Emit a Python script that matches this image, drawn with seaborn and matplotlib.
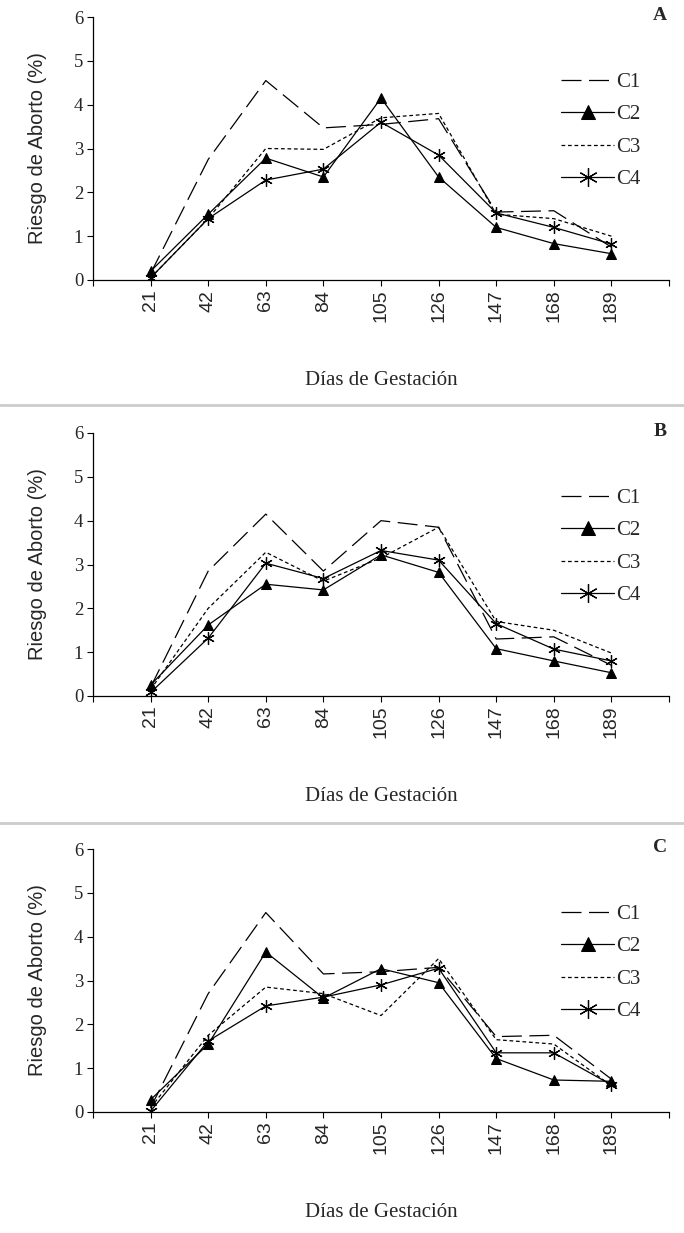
import pandas as pd
import matplotlib
matplotlib.use('Agg')
import matplotlib.pyplot as plt
from matplotlib.lines import Line2D
import seaborn as sns

dias = [21, 42, 63, 84, 105, 126, 147, 168, 189]
series = ['C1', 'C2', 'C3', 'C4']
paneles = ['A', 'B', 'C']

# panel A
a_c1 = [0.15, 2.75, 4.55, 3.47, 3.55, 3.68, 1.55, 1.58, 0.75]
a_c2 = [0.2, 1.5, 2.78, 2.35, 4.15, 2.35, 1.2, 0.83, 0.6]
a_c3 = [0.05, 1.4, 3.0, 2.98, 3.7, 3.8, 1.5, 1.4, 1.0]
a_c4 = [0.05, 1.4, 2.28, 2.53, 3.6, 2.85, 1.53, 1.2, 0.82]
# panel B
b_c1 = [0.2, 2.85, 4.15, 2.85, 4.0, 3.85, 1.3, 1.35, 0.7]
b_c2 = [0.25, 1.62, 2.55, 2.42, 3.22, 2.82, 1.08, 0.8, 0.53]
b_c3 = [0.15, 2.0, 3.28, 2.62, 3.15, 3.85, 1.7, 1.5, 0.98]
b_c4 = [0.08, 1.32, 3.03, 2.68, 3.32, 3.1, 1.65, 1.07, 0.8]
# panel C
c_c1 = [0.1, 2.7, 4.55, 3.15, 3.2, 3.3, 1.72, 1.75, 0.75]
c_c2 = [0.28, 1.55, 3.65, 2.6, 3.27, 2.95, 1.22, 0.73, 0.7]
c_c3 = [0.1, 1.75, 2.85, 2.7, 2.2, 3.5, 1.65, 1.55, 0.6]
c_c4 = [0.02, 1.62, 2.42, 2.62, 2.9, 3.28, 1.35, 1.35, 0.62]

datos = {'A': [a_c1, a_c2, a_c3, a_c4],
         'B': [b_c1, b_c2, b_c3, b_c4],
         'C': [c_c1, c_c2, c_c3, c_c4]}

estilos = {
    'C1': dict(linestyle=(0, (16, 6)), marker=None),
    'C2': dict(linestyle='-', marker='^', markersize=7, markeredgecolor='black',
               markerfacecolor='black'),
    'C3': dict(linestyle=(0, (3, 2.2)), marker=None),
    'C4': dict(linestyle='-', marker=(6, 2, 0), markersize=9, markeredgewidth=0.9,
               markeredgecolor='black'),
}

sns.set_style('ticks')
plt.rcParams['font.family'] = ['Liberation Serif', 'DejaVu Serif']

fig = plt.figure(figsize=(6.84, 12.33), dpi=100)
W, H = 684, 1233
tops = [17, 433, 849]

for panel, top in zip(paneles, tops):
    ax = fig.add_axes([93 / W, 1 - (top + 263) / H, 576 / W, 263 / H])
    for s, vals in zip(series, datos[panel]):
        df = pd.DataFrame({'dia': dias, 'riesgo': vals})
        sns.lineplot(data=df, x='dia', y='riesgo', ax=ax, color='black',
                     linewidth=0.9, label=s, **estilos[s])
    ax.set_xlim(0, 210)
    ax.set_ylim(0, 6)
    ax.set_xticks([0] + dias + [210])
    ax.set_xticklabels([''] + [str(d) for d in dias] + [''], rotation=90,
                       family='Liberation Sans', fontsize=14)
    ax.set_yticks(range(7))
    ax.set_yticklabels([str(i) for i in range(7)], fontsize=13.5)
    ax.tick_params(direction='out', length=4, width=0.8, color='black', pad=3)
    sns.despine(ax=ax)
    for sp in ax.spines.values():
        sp.set_linewidth(0.9)
        sp.set_color('black')
    ax.set_ylabel('Riesgo de Aborto (%)', family='Liberation Sans', fontsize=14.5)
    ax.yaxis.set_label_coords(-0.08, 0.5)
    ax.set_xlabel('Días de Gestación', fontsize=15)
    ax.xaxis.set_label_coords(0.5, -0.347)
    ax.text(0.984, 1.004, panel, transform=ax.transAxes, ha='center', va='center',
            fontsize=14, fontweight='bold')
    ax.legend(loc='upper left', bbox_to_anchor=(0.8125, 0.79), frameon=False,
              fontsize=15, handlelength=2.55, handletextpad=0.1,
              labelspacing=0.62, borderpad=0, borderaxespad=0, markerscale=1.5)

for y in [405, 823]:
    fig.add_artist(Line2D([0, 1], [1 - y / H, 1 - y / H], transform=fig.transFigure,
                          color='#cccccc', linewidth=2))

fig.savefig('out.png', dpi=100)
